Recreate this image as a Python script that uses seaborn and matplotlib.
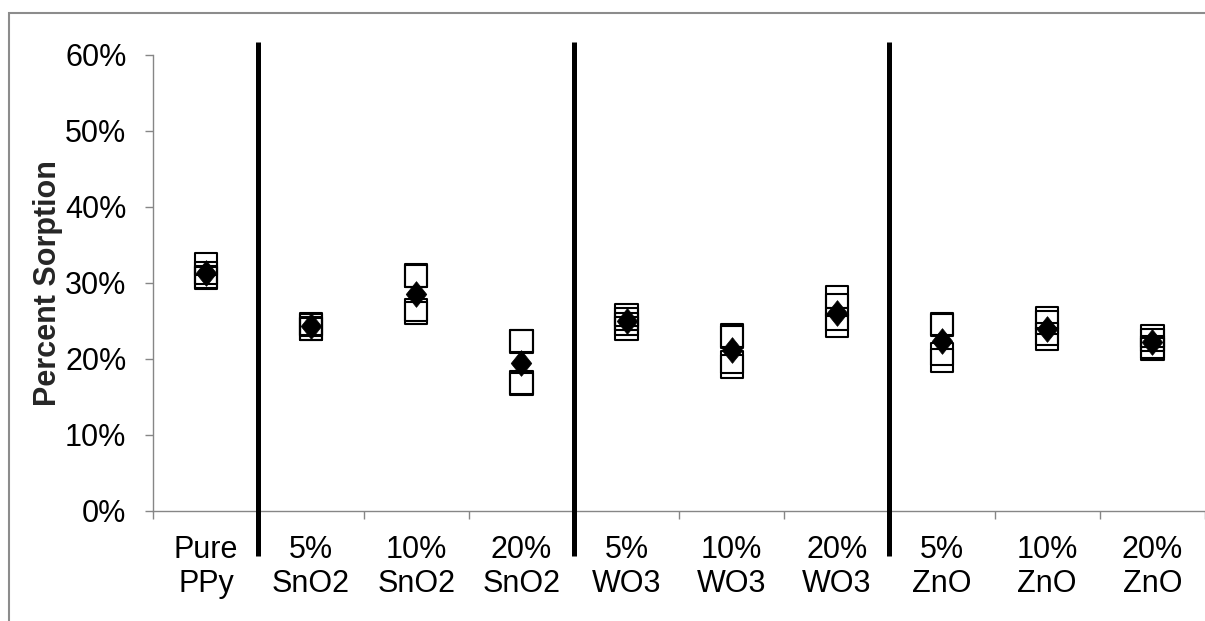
import numpy as np
import pandas as pd
import matplotlib
matplotlib.use("Agg")
import matplotlib.pyplot as plt
import seaborn as sns
from matplotlib.patches import Rectangle

# Samples along the x axis
categories = ["Pure PPy", "5% SnO2", "10% SnO2", "20% SnO2",
              "5% WO3", "10% WO3", "20% WO3",
              "5% ZnO", "10% ZnO", "20% ZnO"]
tick_labels = ["Pure\nPPy", "5%\nSnO2", "10%\nSnO2", "20%\nSnO2",
               "5%\nWO3", "10%\nWO3", "20%\nWO3",
               "5%\nZnO", "10%\nZnO", "20%\nZnO"]

rep1 = [32.5, 24.6, 31.0, 22.4, 25.8, 23.1, 28.2, 24.6, 25.4, 23.0]
rep2 = [31.3, 24.5, 30.9, 22.3, 25.3, 22.9, 27.1, 24.5, 24.8, 22.5]
rep3 = [30.8, 24.0, 26.4, 16.9, 24.6, 19.6, 25.3, 20.7, 23.3, 21.6]
rep4 = [30.7, 23.9, 26.1, 16.7, 24.0, 19.0, 24.4, 19.8, 22.6, 21.3]

# Average shown as filled diamond
means = [31.3, 24.3, 28.6, 19.5, 25.0, 21.2, 26.1, 22.4, 24.0, 22.2]

# group separators sit between these samples
separators = [0.5, 3.5, 6.5]

reps = pd.DataFrame({
    "sample": categories * 4,
    "sorption": rep1 + rep2 + rep3 + rep4,
})
avg = pd.DataFrame({"sample": categories, "sorption": means})

sns.set_style("white")
plt.rcParams["font.family"] = ["Liberation Sans", "DejaVu Sans"]

W, H = 1205, 621
fig = plt.figure(figsize=(W / 100, H / 100), dpi=100)
ax = fig.add_axes([153.3 / W, 110 / H, (W - 153.3) / W, 456 / H])

# open squares for each replicate
sns.stripplot(data=reps, x="sample", y="sorption", order=categories,
              jitter=False, marker="s", size=16, color="black",
              edgecolor="black", linewidth=1.5, ax=ax)
for coll in ax.collections:
    coll.set_facecolor("none")
    coll.set_edgecolor("black")

# mean diamonds
diamond = [(0, 1), (0.8, 0), (0, -1), (-0.8, 0), (0, 1)]
sns.stripplot(data=avg, x="sample", y="sorption", order=categories,
              jitter=False, marker=diamond, size=18.5, color="black",
              edgecolor="black", linewidth=0.5, ax=ax, zorder=5)

# thick vertical lines between material groups
ax.vlines(separators, -5.9, 61.75, colors="black", linewidth=3.6,
          clip_on=False, zorder=6)

ax.set_ylim(0, 60)
ax.set_xlim(-0.5, len(categories) - 0.5)
ax.set_yticks(np.arange(0, 61, 10))
ax.set_yticklabels([f"{v}%" for v in range(0, 61, 10)])
ax.set_xticks(np.arange(-0.5, len(categories), 1))
ax.set_xticklabels([])
ax.set_xticks(np.arange(len(categories)), minor=True)
ax.set_xticklabels(tick_labels, minor=True)

grey = "#868686"
for side in ["top", "right"]:
    ax.spines[side].set_visible(False)
for side in ["left", "bottom"]:
    ax.spines[side].set_color(grey)
    ax.spines[side].set_linewidth(1.0)

ax.tick_params(axis="y", which="major", left=True, direction="out", length=5.8,
               width=1.0, color=grey, labelsize=22, labelcolor="black", pad=13.5)
ax.tick_params(axis="x", which="major", bottom=True, direction="out", length=5.8,
               width=1.0, color=grey)
ax.tick_params(axis="x", which="minor", bottom=True, length=0, labelsize=22,
               labelcolor="black", pad=17)

ax.set_xlabel("")
ax.set_ylabel("Percent Sorption", fontsize=22, fontweight="bold", va="center")
ax.yaxis.set_label_coords(-0.1, 0.5)

# chart-area border (cut off at right and bottom)
fig.patches.append(Rectangle((9.3 / W, -0.1), 1.2, (H - 12.7) / H + 0.1,
                             transform=fig.transFigure, fill=False,
                             edgecolor="#8c8c8c", linewidth=1.5))

fig.savefig("out.png", dpi=100)
